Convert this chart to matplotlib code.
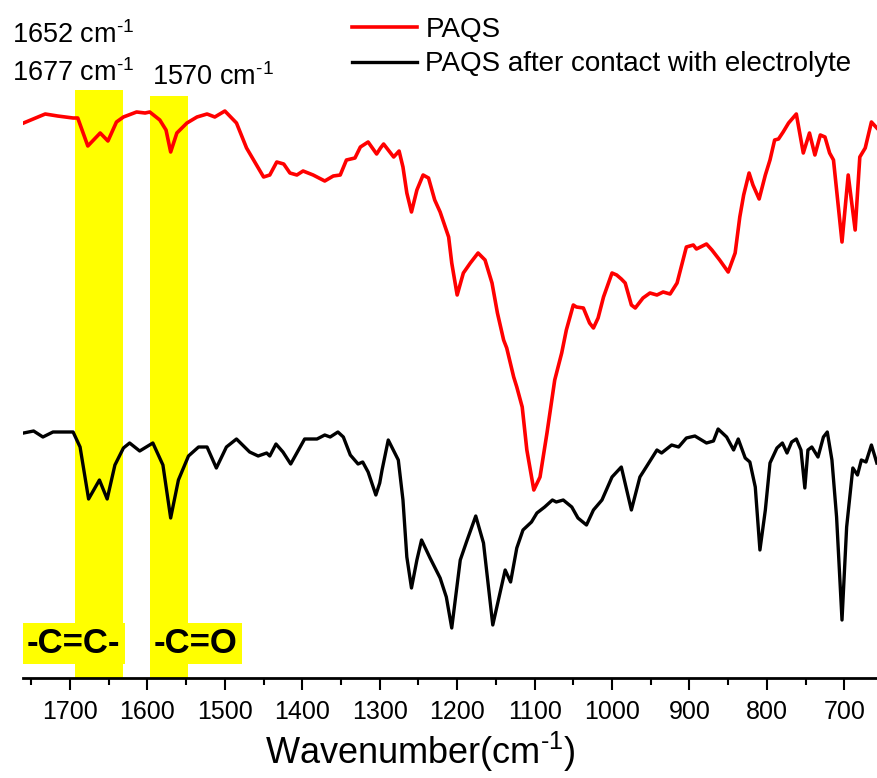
import numpy as np
import matplotlib
matplotlib.use("Agg")
import matplotlib.pyplot as plt
from matplotlib.ticker import MultipleLocator

plt.rcParams['font.family'] = ['Liberation Sans', 'DejaVu Sans']
plt.rcParams['mathtext.fontset'] = 'custom'
plt.rcParams['mathtext.rm'] = 'Liberation Sans'
plt.rcParams['mathtext.it'] = 'Liberation Sans:italic'
plt.rcParams['mathtext.bf'] = 'Liberation Sans:bold'
plt.rcParams['mathtext.default'] = 'regular'

# FTIR spectra, wavenumber (cm-1) vs transmittance (arbitrary units, offset)
wn_paqs = [1760, 1732, 1716, 1696, 1690, 1677, 1661, 1651, 1640, 1631,
           1614, 1603, 1597, 1584, 1576, 1570, 1562, 1549, 1536, 1523,
           1513, 1500, 1485, 1472, 1450, 1442, 1433, 1424, 1416, 1407,
           1399, 1386, 1371, 1360, 1351, 1343, 1332, 1325, 1315, 1304,
           1299, 1295, 1282, 1275, 1270, 1265, 1259, 1252, 1244, 1237,
           1229, 1222, 1211, 1207, 1200, 1192, 1183, 1173, 1164, 1155,
           1148, 1140, 1136, 1127, 1123, 1116, 1110, 1101, 1093, 1084,
           1074, 1065, 1059, 1050, 1046, 1037, 1029, 1024, 1018, 1011,
           1000, 994, 988, 983, 975, 970, 960, 951, 942, 934,
           925, 916, 904, 895, 891, 878, 871, 861, 850, 841,
           835, 830, 823, 818, 810, 802, 796, 790, 785, 779,
           772, 762, 753, 745, 738, 731, 725, 719, 714, 703,
           695, 686, 680, 673, 665, 658]
t_paqs = [555, 564, 562, 560, 560, 532, 545, 537, 556, 561,
          566, 565, 566, 558, 548, 526, 545, 555, 561, 564,
          561, 567, 555, 530, 501, 503, 516, 514, 505, 503,
          507, 503, 497, 502, 503, 518, 520, 531, 536, 524,
          530, 534, 521, 527, 511, 485, 466, 488, 503, 500,
          478, 466, 441, 415, 383, 405, 415, 425, 418, 395,
          365, 338, 330, 301, 291, 271, 228, 188, 201, 245,
          298, 325, 348, 373, 371, 370, 355, 350, 360, 381,
          405, 403, 399, 395, 373, 370, 380, 385, 383, 386,
          384, 395, 431, 433, 429, 434, 428, 418, 406, 425,
          461, 483, 505, 493, 479, 503, 518, 538, 539, 546,
          555, 564, 525, 545, 523, 543, 541, 525, 518, 436,
          503, 448, 521, 530, 556, 550]

wn_elec = [1760, 1747, 1735, 1722, 1696, 1687, 1676, 1662, 1652, 1642,
           1631, 1623, 1610, 1593, 1580, 1570, 1560, 1547, 1534, 1523,
           1511, 1498, 1485, 1468, 1457, 1446, 1442, 1434, 1425, 1415,
           1397, 1381, 1371, 1364, 1354, 1347, 1338, 1328, 1322, 1315,
           1305, 1300, 1297, 1289, 1276, 1270, 1265, 1259, 1252, 1246,
           1235, 1222, 1214, 1207, 1196, 1188, 1176, 1166, 1154, 1138,
           1131, 1123, 1115, 1104, 1097, 1087, 1077, 1072, 1063, 1052,
           1044, 1033, 1024, 1013, 1000, 988, 975, 964, 955, 942,
           936, 923, 914, 904, 893, 878, 869, 863, 852, 843,
           837, 828, 822, 815, 809, 802, 796, 787, 780, 774,
           768, 762, 756, 751, 747, 742, 734, 727, 722, 716,
           710, 703, 697, 689, 683, 678, 672, 665, 658]
t_elec = [245, 247, 241, 246, 246, 231, 179, 198, 179, 213,
          230, 235, 227, 235, 213, 160, 198, 222, 231, 231,
          210, 231, 239, 226, 222, 225, 222, 234, 226, 214,
          239, 239, 243, 241, 246, 241, 223, 214, 216, 206,
          183, 195, 208, 238, 218, 178, 121, 90, 118, 138,
          120, 100, 81, 50, 118, 136, 162, 135, 53, 108,
          96, 130, 148, 156, 165, 171, 178, 176, 178, 171,
          160, 153, 168, 178, 201, 211, 168, 201, 212, 228,
          225, 233, 231, 240, 242, 235, 237, 249, 241, 228,
          239, 220, 216, 191, 128, 168, 215, 230, 235, 225,
          236, 239, 228, 190, 228, 231, 221, 241, 246, 218,
          161, 58, 151, 210, 203, 218, 216, 233, 215]

# highlighted absorption regions
bands = [(1693.5, 1631, 588), (1597, 1548, 582)]
band_labels = ['-C=C-', '-C=O']
band_label_x = [1755.5, 1591.5]

peak_labels = ['1652 cm$^{\\text{-}1}$', '1677 cm$^{\\text{-}1}$', '1570 cm$^{\\text{-}1}$']
peak_label_pos = [(1775, 635), (1775, 597), (1594.5, 593)]

fig = plt.figure(figsize=(8.77, 7.78), dpi=100)
ax = fig.add_axes([23 / 877, 100 / 778, 854 / 877, 678 / 778])

ymax = 678
for lo, hi, top in bands:
    ax.axvspan(lo, hi, ymin=0, ymax=top / ymax, color='#ffff00', lw=0, zorder=0)

ax.plot(wn_paqs, t_paqs, color='#ff0000', lw=2.6, label='PAQS',
        solid_joinstyle='round', zorder=3)
ax.plot(wn_elec, t_elec, color='black', lw=2.4,
        label='PAQS after contact with electrolyte',
        solid_joinstyle='round', zorder=3)

for txt, x in zip(band_labels, band_label_x):
    ax.text(x, 25, txt, fontsize=25, fontweight='bold', ha='left', va='baseline',
            bbox=dict(boxstyle='square,pad=0.12', fc='#ffff00', ec='none'), zorder=2)

for txt, (x, y) in zip(peak_labels, peak_label_pos):
    ax.text(x, y, txt, fontsize=19.5, ha='left', va='baseline')

ax.set_xlim(1760.7, 657.8)
ax.set_ylim(0, ymax)

for side in ['left', 'right', 'top']:
    ax.spines[side].set_visible(False)
ax.spines['bottom'].set_linewidth(2)
ax.set_yticks([])
ax.xaxis.set_major_locator(MultipleLocator(100))
ax.xaxis.set_minor_locator(MultipleLocator(50))
ax.tick_params(axis='x', which='major', length=8.6, width=1.5, labelsize=18, pad=7)
ax.tick_params(axis='x', which='minor', length=5, width=1.5)

ax.set_xlabel('Wavenumber(cm$^{\\text{-}1}$)', fontsize=26)
ax.xaxis.set_label_coords(0.465, -0.077)

ax.legend(loc='upper left', bbox_to_anchor=(352 / 877, 1 - 17 / 778),
          bbox_transform=fig.transFigure, frameon=False, fontsize=20,
          handlelength=2.34, handletextpad=0.3, labelspacing=0.3,
          borderpad=0, borderaxespad=0)

fig.savefig('out.png', dpi=100)
